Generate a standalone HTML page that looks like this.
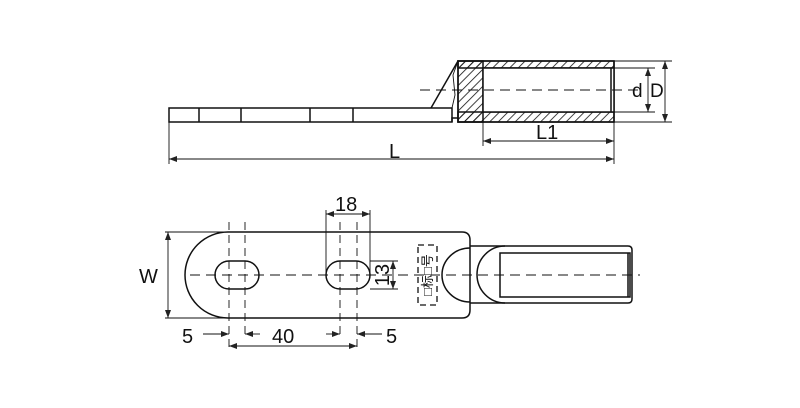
<!DOCTYPE html>
<html><head><style>body{margin:0;background:#fff}svg{display:block}</style></head><body>
<svg width="800" height="408" viewBox="0 0 800 408" xmlns="http://www.w3.org/2000/svg" font-family="Liberation Sans, Noto Sans CJK SC, sans-serif">
<defs>
<pattern id="h" width="6" height="6" patternUnits="userSpaceOnUse" patternTransform="rotate(45)"><line x1="0" y1="0" x2="0" y2="6" stroke="#111" stroke-width="1.6"/></pattern>
<marker id="a" markerWidth="8" markerHeight="6" refX="8" refY="3" orient="auto-start-reverse" markerUnits="userSpaceOnUse"><path d="M0,0L8,3L0,6z" fill="#222"/></marker>
</defs>
<g stroke="#111" fill="none" stroke-width="1.5">
<rect x="169" y="108" width="283" height="14"/>
<line x1="199" y1="108" x2="199" y2="122"/><line x1="241" y1="108" x2="241" y2="122"/><line x1="310" y1="108" x2="310" y2="122"/><line x1="353" y1="108" x2="353" y2="122"/>
<path d="M452,122 L452,118 L458,118"/>
<rect x="458" y="61" width="156" height="7" fill="url(#h)"/>
<rect x="458" y="112" width="156" height="10" fill="url(#h)"/>
<rect x="458" y="61" width="25" height="61" fill="url(#h)"/>
<rect x="458" y="61" width="156" height="61"/>
<rect x="483" y="68" width="131" height="44" fill="#fff"/>
<line x1="611" y1="68" x2="611" y2="112"/>
<path d="M431,108 L458,61"/>
<path d="M458,61 L453,75 L455,95 L452,108" stroke-width="0.9"/>
<line x1="420" y1="90" x2="640" y2="90" stroke-dasharray="10,6" stroke-width="0.9"/>
<g stroke-width="0.9">
<line x1="614" y1="68" x2="655" y2="68"/><line x1="614" y1="112" x2="655" y2="112"/>
<line x1="614" y1="61" x2="672" y2="61"/><line x1="614" y1="122" x2="672" y2="122"/>
<line x1="648" y1="68" x2="648" y2="112" marker-start="url(#a)" marker-end="url(#a)"/>
<line x1="665" y1="61" x2="665" y2="122" marker-start="url(#a)" marker-end="url(#a)"/>
<line x1="483" y1="122" x2="483" y2="146"/><line x1="614" y1="122" x2="614" y2="164"/>
<line x1="169" y1="122" x2="169" y2="164"/>
<line x1="483" y1="141" x2="614" y2="141" marker-start="url(#a)" marker-end="url(#a)"/>
<line x1="169" y1="159" x2="614" y2="159" marker-start="url(#a)" marker-end="url(#a)"/>
</g>
<path d="M228,232 L462,232 Q470,232 470,240 L470,310 Q470,318 462,318 L228,318 A43,43 0 0 1 228,232 Z"/>
<rect x="215" y="261" width="44" height="28" rx="14"/>
<rect x="326" y="261" width="44" height="28" rx="14"/>
<path d="M470,248 A28,27 0 0 0 470,302"/>
<path d="M470,246 L628,246 Q632,246 632,250 L632,299 Q632,303 628,303 L470,303"/>
<path d="M505,246 A28,28.5 0 0 0 505,303"/>
<rect x="500" y="253" width="130" height="44"/>
<line x1="628" y1="253" x2="628" y2="297"/>
<g stroke-width="0.9">
<line x1="190" y1="275" x2="640" y2="275" stroke-dasharray="10,6"/>
<line x1="229" y1="222" x2="229" y2="350" stroke-dasharray="8,5"/>
<line x1="245" y1="222" x2="245" y2="338" stroke-dasharray="8,5"/>
<line x1="340" y1="222" x2="340" y2="338" stroke-dasharray="8,5"/>
<line x1="357" y1="222" x2="357" y2="350" stroke-dasharray="8,5"/>
<rect x="418" y="245" width="19" height="60" stroke-dasharray="6,4" stroke-width="1.3"/>
<line x1="165" y1="232" x2="228" y2="232"/><line x1="165" y1="318" x2="228" y2="318"/>
<line x1="168" y1="232" x2="168" y2="318" marker-start="url(#a)" marker-end="url(#a)"/>
<line x1="326" y1="210" x2="326" y2="275"/><line x1="370" y1="210" x2="370" y2="275"/>
<line x1="326" y1="214" x2="370" y2="214" marker-start="url(#a)" marker-end="url(#a)"/>
<line x1="370" y1="261" x2="398" y2="261"/><line x1="370" y1="289" x2="398" y2="289"/>
<line x1="393" y1="261" x2="393" y2="289" marker-start="url(#a)" marker-end="url(#a)"/>
<line x1="203" y1="334" x2="229" y2="334" marker-end="url(#a)"/><line x1="245" y1="334" x2="260" y2="334" marker-start="url(#a)"/>
<line x1="326" y1="334" x2="340" y2="334" marker-end="url(#a)"/><line x1="357" y1="334" x2="382" y2="334" marker-start="url(#a)"/>
<line x1="229" y1="346" x2="357" y2="346" marker-start="url(#a)" marker-end="url(#a)"/>
</g>
</g>
<g fill="#111" font-size="20">
<text x="632" y="97" font-size="19">d</text><text x="650" y="97" font-size="19">D</text>
<text x="536" y="139">L1</text><text x="389" y="158">L</text>
<text x="139" y="283">W</text>
<text x="335" y="211">18</text>
<text transform="translate(389,275) rotate(-90)" text-anchor="middle">13</text>
<text x="182" y="343">5</text><text x="272" y="343">40</text><text x="386" y="343">5</text>
<text transform="translate(432,275) rotate(-90)" text-anchor="middle" font-size="13">□标□号</text>
</g>
</svg>
</body></html>
